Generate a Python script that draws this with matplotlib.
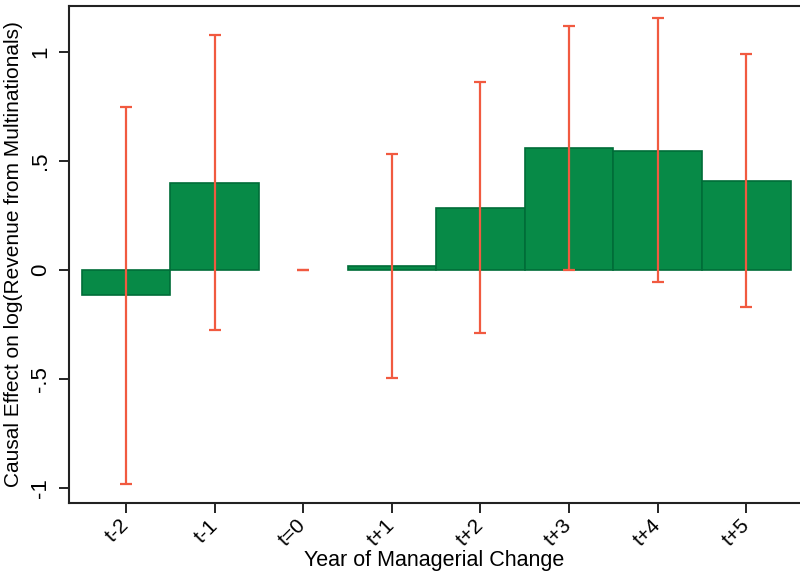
import numpy as np
import matplotlib.pyplot as plt

plt.rcParams['font.family'] = ['Liberation Sans', 'DejaVu Sans']

periods = ['t-2', 't-1', 't=0', 't+1', 't+2', 't+3', 't+4', 't+5']
effect = [-0.115, 0.40, 0.0, 0.018, 0.284, 0.56, 0.547, 0.408]
ci_low = [-0.98, -0.275, 0.0, -0.495, -0.289, 0.0, -0.055, -0.17]
ci_high = [0.748, 1.078, 0.0, 0.532, 0.862, 1.119, 1.156, 0.99]

bar_color = '#078a47'
edge_color = '#006d38'
err_color = '#f15a40'

x = np.arange(len(periods))
effect = np.array(effect)
lo = effect - np.array(ci_low)
hi = np.array(ci_high) - effect

fig = plt.figure(figsize=(8, 5.74), dpi=100)
ax = fig.add_axes([0.08625, 0.1237, 0.9138, 0.8658])

# zero-height bar gets no outline (reference shows only the red dash)
edges = [edge_color if v != 0 else 'none' for v in effect]
ax.bar(x, effect, width=1.0, color=bar_color, edgecolor=edges, linewidth=1.2, zorder=2)
ax.errorbar(x, effect, yerr=[lo, hi], fmt='none', ecolor=err_color,
            elinewidth=1.6, capsize=4, capthick=1.6, zorder=3)

ax.set_xlim(-0.643, 7.607)
ax.set_ylim(-1.069, 1.211)
ax.set_xticks(x)
ax.set_xticklabels(periods, rotation=45, ha='right', va='center', rotation_mode='anchor')
ax.set_yticks([-1, -0.5, 0, 0.5, 1])
ax.set_yticklabels(['-1', '-.5', '0', '.5', '1'], rotation=90, va='center')
ax.tick_params(axis='both', length=7, width=1.2, direction='out')
ax.tick_params(axis='x', labelsize=15, pad=7)
ax.tick_params(axis='y', labelsize=16, pad=6)

for s in ['left', 'bottom', 'top']:
    ax.spines[s].set_linewidth(1.5)
    ax.spines[s].set_color('#222222')
ax.spines['right'].set_visible(False)

ax.set_xlabel('Year of Managerial Change', fontsize=15.5, labelpad=0)
ax.set_ylabel('Causal Effect on log(Revenue from Multinationals)', fontsize=15, labelpad=5)

fig.savefig('out.png', dpi=100)
